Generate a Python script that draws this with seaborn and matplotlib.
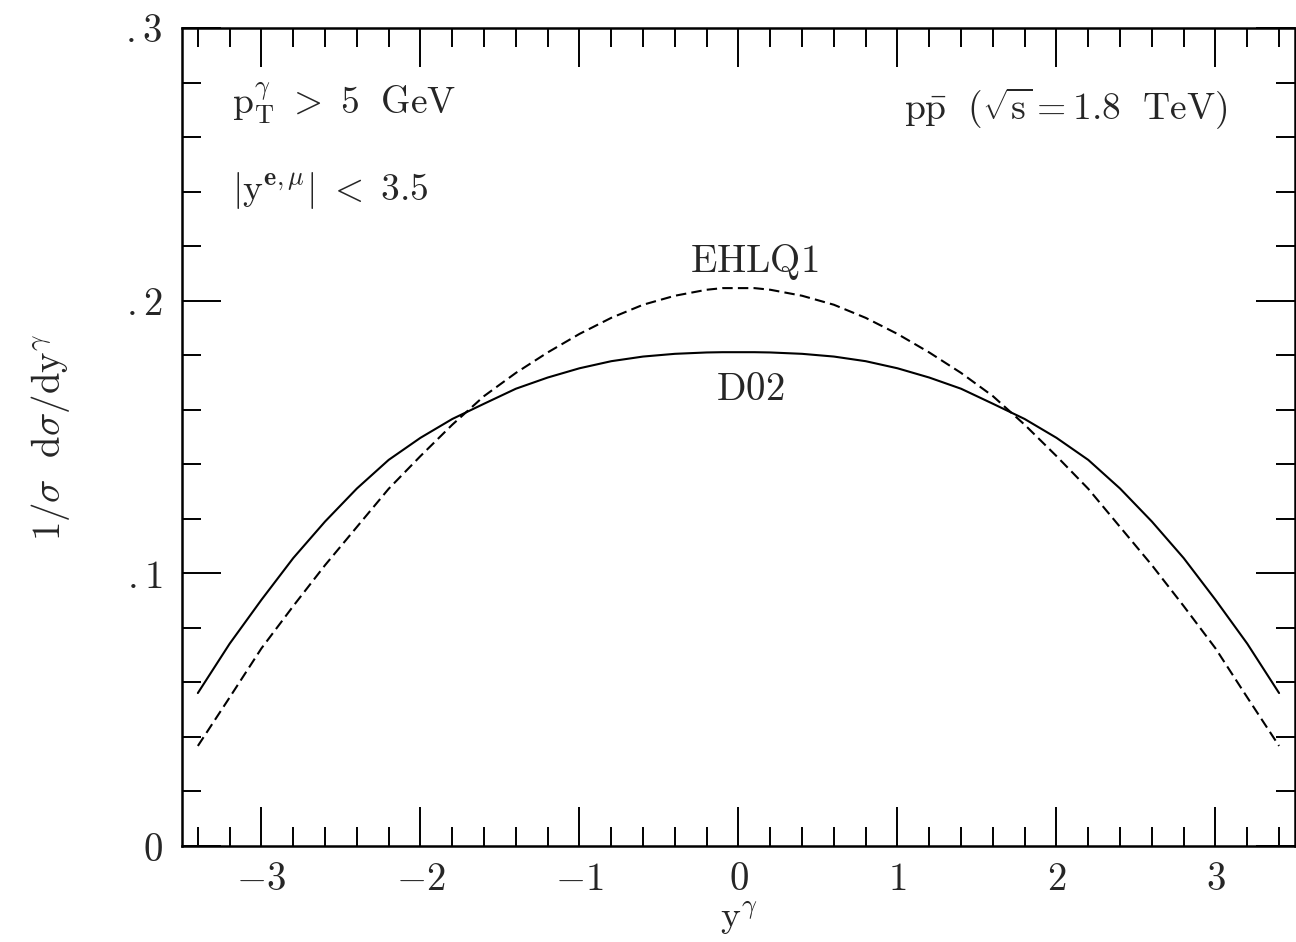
import pandas as pd
import seaborn as sns
import matplotlib.pyplot as plt
from matplotlib.ticker import MultipleLocator

# rapidity of the photon
y_gamma = [-3.4, -3.2, -3.0, -2.8, -2.6, -2.4, -2.2, -2.0, -1.8, -1.6, -1.4, -1.2,
           -1.0, -0.8, -0.6, -0.4, -0.2, -0.1, 0.1, 0.2, 0.4, 0.6, 0.8, 1.0,
           1.2, 1.4, 1.6, 1.8, 2.0, 2.2, 2.4, 2.6, 2.8, 3.0, 3.2, 3.4]

d02 = [0.0561, 0.0742, 0.0903, 0.1056, 0.1190, 0.1311, 0.1416, 0.1497, 0.1566,
       0.1622, 0.1677, 0.1718, 0.1752, 0.1778, 0.1795, 0.1805, 0.1810, 0.1811,
       0.1811, 0.1810, 0.1805, 0.1795, 0.1778, 0.1752, 0.1718, 0.1677, 0.1622,
       0.1566, 0.1497, 0.1416, 0.1311, 0.1190, 0.1056, 0.0903, 0.0742, 0.0561]

ehlq1 = [0.0367, 0.0545, 0.0725, 0.0880, 0.1030, 0.1170, 0.1310, 0.1430, 0.1545,
         0.1650, 0.1735, 0.1810, 0.1878, 0.1937, 0.1985, 0.2018, 0.2040, 0.2046,
         0.2046, 0.2040, 0.2018, 0.1985, 0.1937, 0.1878, 0.1810, 0.1735, 0.1650,
         0.1545, 0.1430, 0.1310, 0.1170, 0.1030, 0.0880, 0.0725, 0.0545, 0.0367]

x_ticks = [-3, -2, -1, 0, 1, 2, 3]
x_labels = [r"$-3$", r"$-2$", r"$-1$", r"$0$", r"$1$", r"$2$", r"$3$"]
y_ticks = [0, 0.1, 0.2, 0.3]
y_labels = [r"$0$", r"$.1$", r"$.2$", r"$.3$"]


def dane_long():
    df = pd.DataFrame({"y": y_gamma, "D02": d02, "EHLQ1": ehlq1})
    return df.melt(id_vars="y", var_name="model", value_name="val")


def rysuj(df):
    sns.set_style("white")
    plt.rcParams["mathtext.fontset"] = "cm"
    plt.rcParams["font.family"] = ["DejaVu Serif"]

    fig = plt.figure(figsize=(12.96, 9.42), dpi=100)
    ax = fig.add_axes([0.1404, 0.1019, 0.8588, 0.8684])

    sns.lineplot(data=df, x="y", y="val", style="model",
                 dashes={"D02": "", "EHLQ1": (5, 2.5)},
                 color="black", linewidth=1.5, sort=False, legend=False, ax=ax)

    ax.set_xlim(-3.5, 3.5)
    ax.set_ylim(0, 0.3)
    ax.set_xticks(x_ticks)
    ax.set_xticklabels(x_labels)
    ax.set_yticks(y_ticks)
    ax.set_yticklabels(y_labels)
    ax.xaxis.set_minor_locator(MultipleLocator(0.2))
    ax.yaxis.set_minor_locator(MultipleLocator(0.02))

    ax.tick_params(which="both", direction="in", top=True, right=True,
                   bottom=True, left=True, color="black", width=1.4)
    ax.tick_params(which="major", length=28, labelsize=28)
    ax.tick_params(axis="x", which="major", pad=11)
    ax.tick_params(axis="y", which="major", pad=14)
    ax.tick_params(which="minor", length=14)
    for s in ax.spines.values():
        s.set_color("black")
        s.set_linewidth(1.8)

    ax.set_xlabel(r"$\mathrm{y}^\gamma$", fontsize=27, labelpad=1)
    ax.set_ylabel(r"$1/\sigma\ \ \mathrm{d}\sigma/\mathrm{dy}^\gamma$",
                  fontsize=28, labelpad=38)

    ax.text(0.045, 0.894, r"$\mathrm{p}_\mathrm{T}^\gamma\ >\ 5\ \ \mathrm{GeV}$",
            transform=ax.transAxes, fontsize=27, ha="left", va="baseline")
    ax.text(0.045, 0.790, r"$|\mathrm{y}^{\mathbf{e},\mu}|\ <\ 3.5$",
            transform=ax.transAxes, fontsize=27, ha="left", va="baseline")
    ax.text(0.939, 0.8875,
            r"$\mathrm{p}\bar{\mathrm{p}}\ \ (\sqrt{\mathrm{s}}{=}1.8\ \ \mathrm{TeV})$",
            transform=ax.transAxes, fontsize=27, ha="right", va="baseline")
    ax.text(0.10, 0.2105, r"$\mathrm{EHLQ1}$", fontsize=28, ha="center", va="baseline")
    ax.text(0.075, 0.1635, r"$\mathrm{D02}$", fontsize=28, ha="center", va="baseline")

    fig.savefig("out.png", dpi=100)


if __name__ == "__main__":
    rysuj(dane_long())
